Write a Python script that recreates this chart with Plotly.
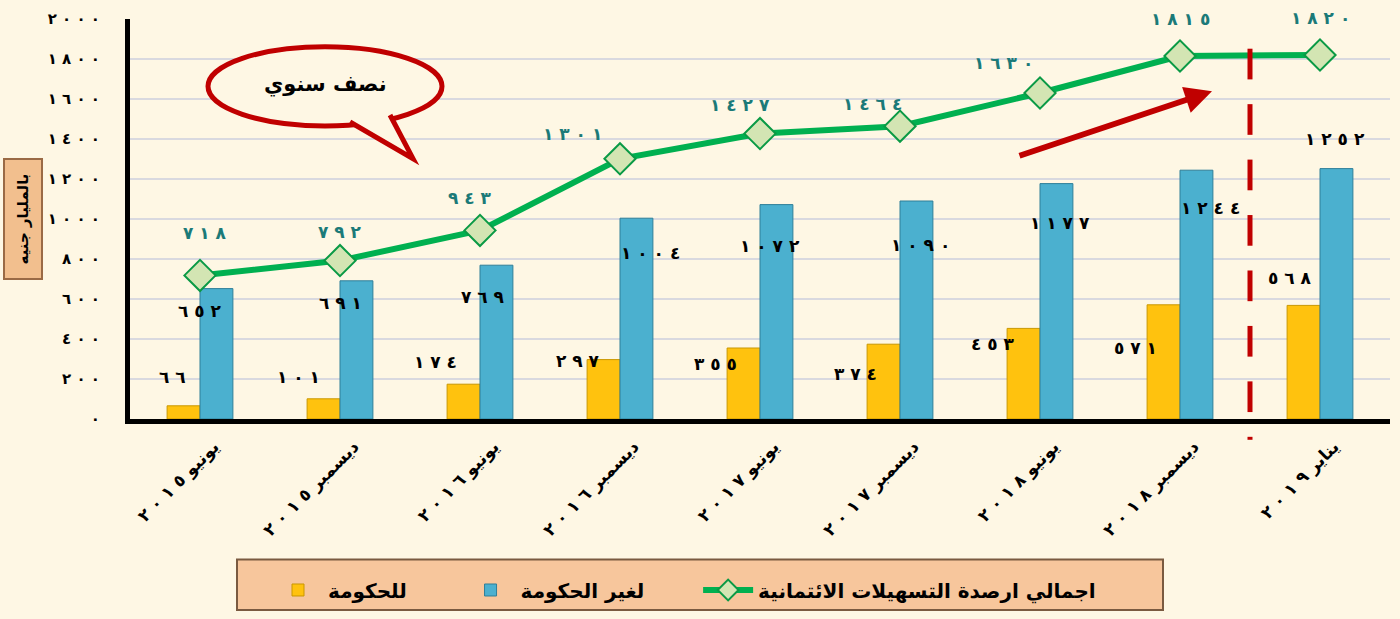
import plotly.graph_objects as go

# ---------------- data ----------------
categories = ["يونيو ٢٠١٥", "ديسمبر ٢٠١٥", "يونيو ٢٠١٦", "ديسمبر ٢٠١٦", "يونيو ٢٠١٧",
              "ديسمبر ٢٠١٧", "يونيو ٢٠١٨", "ديسمبر ٢٠١٨", "يناير ٢٠١٩"]
gov_values = [66, 101, 174, 297, 355, 374, 453, 571, 568]          # للحكومة
nongov_values = [652, 691, 769, 1004, 1072, 1090, 1177, 1244, 1252]  # لغير الحكومة
total_values = [718, 792, 943, 1301, 1427, 1464, 1630, 1815, 1820]   # الإجمالي
y_ticks = [0, 200, 400, 600, 800, 1000, 1200, 1400, 1600, 1800, 2000]

name_gov = "للحكومة"
name_nongov = "لغير الحكومة"
name_total = "اجمالي ارصدة التسهيلات الائتمانية"
y_title = "بالمليار جنيه"
bubble_text = "نصف سنوي"

# label pixel offsets (layout only)
tot_dx = [5, 0, -10, -48, -20, -28, -37, 0, 0]
tot_dy = [42, 29, 32, 25, 29, 22, 30, 37, 37]
ng_dx = [0, 0, 3, 30, 10, 20, 20, 30, 15]
ng_dy = [-22, -22, -32, -35, -41, -44, -39, -38, 30]
g_dx = [-28, -42, -45, -42, -45, -45, -47, -45, -30]
g_dy = [29, 22, 22, -1, -16, -30, -16, -43, 27]

# ---------------- helpers ----------------
AR = str.maketrans("0123456789", "٠١٢٣٤٥٦٧٨٩")
NBSP = "\u00a0"
AR_DIG = set("٠١٢٣٤٥٦٧٨٩")


def ar_num(n):
    return NBSP.join(str(n).translate(AR))


def spaced(s):
    out = ""
    for i, ch in enumerate(s):
        out += ch
        if ch in AR_DIG and i + 1 < len(s) and s[i + 1] in AR_DIG:
            out += NBSP
    return out


FONT = "DejaVu Sans"
BG = "#fef7e4"
RED = "#c00000"

L, R, T, B = 130, 10, 17, 198
W, H = 1400, 619
PW, PH = W - L - R, H - T - B


def px(x):
    return (x - L) / PW


def py(y):
    return (H - B - y) / PH


fig = go.Figure()

fig.add_trace(go.Bar(
    x=categories, y=gov_values, name=name_gov + NBSP * 7,
    marker=dict(color="#ffc20e", line=dict(color="#c99700", width=1)),
))
fig.add_trace(go.Bar(
    x=categories, y=nongov_values, name=name_nongov + NBSP * 7,
    marker=dict(color="#4bb0cf", line=dict(color="#2f7f99", width=1)),
))
fig.add_trace(go.Scatter(
    x=categories, y=total_values, name=name_total, mode="lines+markers",
    line=dict(color="#00b050", width=6),
    marker=dict(symbol="diamond", size=24, color="#d3e5b3",
                line=dict(color="#0a9a45", width=2)),
))

annotations = []
for i, v in enumerate(total_values):
    annotations.append(dict(x=i, y=v, xref="x", yref="y", text=ar_num(v), showarrow=False,
                            xshift=tot_dx[i], yshift=tot_dy[i],
                            font=dict(family=FONT, size=17, color="#1b7a78", weight="bold")))
for i, v in enumerate(nongov_values):
    annotations.append(dict(x=i, y=v, xref="x", yref="y", text=ar_num(v), showarrow=False,
                            xshift=ng_dx[i], yshift=ng_dy[i],
                            font=dict(family=FONT, size=17, color="black", weight="bold")))
for i, v in enumerate(gov_values):
    annotations.append(dict(x=i, y=v, xref="x", yref="y", text=ar_num(v), showarrow=False,
                            xshift=g_dx[i], yshift=g_dy[i],
                            font=dict(family=FONT, size=17, color="black", weight="bold")))

# y-axis title box
annotations.append(dict(x=px(23.5), y=py(219.5), xref="paper", yref="paper", text=y_title,
                        showarrow=False, textangle=-90, xanchor="center", yanchor="middle",
                        bgcolor="#f2bf8e", bordercolor="#9a6a45", borderwidth=2, borderpad=3,
                        width=112, height=30,
                        font=dict(family=FONT, size=15, color="black", weight="bold")))

# speech bubble text
annotations.append(dict(x=px(325), y=py(83), xref="paper", yref="paper", text=bubble_text,
                        showarrow=False, xanchor="center", yanchor="middle",
                        font=dict(family=FONT, size=21, color="black", weight="bold")))

# red arrow
annotations.append(dict(x=px(1212), y=py(90), xref="paper", yref="paper", text="",
                        showarrow=True, axref="pixel", ayref="pixel", ax=-194, ay=65,
                        arrowcolor=RED, arrowwidth=6, arrowhead=2, arrowsize=0.9))

shapes = [
    # legend box
    dict(type="rect", xref="paper", yref="paper", x0=px(237), x1=px(1163), y0=py(614), y1=py(563),
         fillcolor="#f7c69c", line=dict(color="#7a5a40", width=2), layer="below"),
    # speech bubble
    dict(type="circle", xref="paper", yref="paper", x0=px(208), x1=px(442), y0=py(125), y1=py(45),
         fillcolor=BG, line=dict(color=RED, width=5)),
    dict(type="path", xref="paper", yref="paper",
         path=f"M {px(350)},{py(121)} L {px(413)},{py(158)} L {px(390)},{py(114)}",
         fillcolor=BG, line=dict(color=RED, width=5)),
]

# dashed separator between the last two periods (drawn as explicit dash segments)
sep_x = (7.5 + 0.5) / len(categories)
top, bottom, dash_len, period = 47, 442, 31, 56
y_start = top
while y_start < bottom:
    y_end = min(y_start + dash_len, bottom)
    shapes.append(dict(type="line", xref="paper", yref="paper", x0=sep_x, x1=sep_x,
                       y0=py(y_start), y1=py(y_end), line=dict(color=RED, width=5)))
    y_start += period

fig.update_layout(
    width=W, height=H,
    margin=dict(l=L, r=R, t=T, b=B),
    paper_bgcolor=BG, plot_bgcolor=BG,
    barmode="group", bargap=0.53, bargroupgap=0,
    showlegend=True,
    legend=dict(orientation="h", x=px(268), y=py(574), xanchor="left", yanchor="top",
                bgcolor="rgba(0,0,0,0)", itemwidth=50,
                font=dict(family=FONT, size=20, color="black", weight="bold"),
                traceorder="normal"),
    annotations=annotations,
    shapes=shapes,
    font=dict(family=FONT),
)

fig.update_xaxes(
    type="category", range=[-0.5, len(categories) - 0.5],
    tickvals=categories, ticktext=[spaced(c) for c in categories],
    tickangle=-45, showline=True, linecolor="black", linewidth=5,
    showgrid=False, ticks="", ticklabelshift=14, ticklabelstandoff=6,
    tickfont=dict(family=FONT, size=17, color="black", weight="bold"),
)
fig.update_yaxes(
    range=[0, 2000], tickvals=y_ticks, ticktext=[ar_num(v) for v in y_ticks],
    showline=True, linecolor="black", linewidth=5,
    showgrid=True, gridcolor="#d9d9df", gridwidth=2, zeroline=False, ticks="",
    ticklabelstandoff=22,
    tickfont=dict(family=FONT, size=15, color="black", weight="bold"),
)

fig.write_html("out.html", config={"displayModeBar": False},
               post_script="document.body.style.margin='0';")
